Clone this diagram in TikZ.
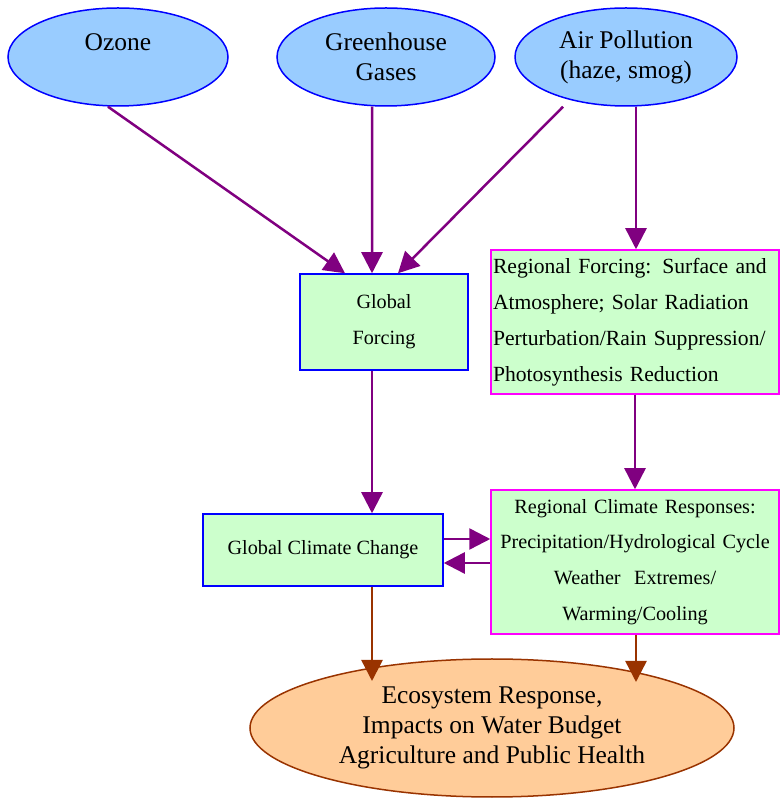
\documentclass[tikz,border=0pt]{standalone}
\usepackage{fontspec}
\setmainfont{Liberation Serif}
\usepackage{tikz}
\usetikzlibrary{positioning}
\usetikzlibrary{arrows.meta,shapes.geometric}
\definecolor{causefill}{RGB}{153,204,255}
\definecolor{causeline}{RGB}{0,0,255}
\definecolor{boxfill}{RGB}{204,255,204}
\definecolor{regionline}{RGB}{255,0,255}
\definecolor{impactfill}{RGB}{255,204,153}
\definecolor{impactline}{RGB}{153,51,0}
\definecolor{arrowpurple}{RGB}{128,0,128}

\begin{document}
\begin{tikzpicture}[
    cause/.style={ellipse, draw=causeline, line width=0.03cm, fill=causefill, minimum width=4.4cm, minimum height=1.96cm, inner sep=0pt, align=center, font=\fontsize{14.5}{17}\selectfont},
    globalbox/.style={rectangle, draw=causeline, line width=0.03cm, fill=boxfill, inner sep=0.04cm, align=center, font=\fontsize{11.5}{20.4}\selectfont},
    regionbox/.style={rectangle, draw=regionline, line width=0.03cm, fill=boxfill, inner sep=0.04cm, text width=5.68cm, minimum height=2.88cm},
    impact/.style={ellipse, draw=impactline, line width=0.03cm, fill=impactfill, minimum width=9.68cm, minimum height=2.76cm, inner sep=0pt, align=center, font=\fontsize{14.5}{17}\selectfont},
    forcearrow/.style={draw=arrowpurple, line width=0.05cm, -{Triangle[length=0.42cm,width=0.42cm]}},
    impactarrow/.style={draw=impactline, line width=0.05cm, -{Triangle[length=0.42cm,width=0.42cm]}}
  ]
   \useasboundingbox (0,0) rectangle (15.58,15.96);
   % sources
   \node[cause] (ozone) at (2.36,14.82) {Ozone\\\mbox{}};
   \node[cause, minimum width=4.36cm] (ghg) at (7.72,14.82) {Greenhouse\\Gases};
   \node[cause, minimum width=4.44cm] (airpol) at (12.52,14.82) {Air Pollution\\(haze, smog)};
   % forcing
   \node[globalbox, minimum width=3.36cm, minimum height=1.92cm] (gforce) at (7.68,9.52) {Global\\Forcing};
   \node[regionbox, align=left, font=\fontsize{12.3}{20.4}\selectfont] (rforce) at (12.70,9.52) {Regional Forcing: Surface and\\Atmosphere; Solar Radiation\\Perturbation/Rain Suppression/\\Photosynthesis Reduction};
   % climate
   \node[globalbox, minimum width=4.8cm, minimum height=1.44cm] (gclim) at (6.46,4.96) {Global Climate Change};
   \node[regionbox, align=center, font=\fontsize{11.5}{20.4}\selectfont] (rclim) at (12.70,4.72) {Regional Climate Responses:\\Precipitation/Hydrological Cycle\\Weather\ \ Extremes/\\Warming/Cooling};
   % impacts
   \node[impact] (eco) at (9.84,1.40) {Ecosystem Response,\\Impacts on Water Budget\\Agriculture and Public Health};
   \coordinate (ecoleft) at ([shift={(-2.4,0.94)}]eco.center);
   \coordinate (ecoright) at ([shift={(2.88,0.92)}]eco.center);

   \draw[forcearrow] ([xshift=-0.2cm]ozone.south) -- ([xshift=-0.78cm]gforce.north);
   \draw[forcearrow] ([xshift=-0.28cm]ghg.south) -- ([xshift=-0.24cm]gforce.north);
   \draw[forcearrow] ([xshift=-1.26cm]airpol.south) -- ([xshift=0.28cm]gforce.north);
   \draw[forcearrow] ([xshift=0.2cm]airpol.south) -- ([xshift=0.2cm]airpol.south |- rforce.north);
   \draw[forcearrow] ([xshift=-0.24cm]gforce.south) -- ([xshift=-0.24cm]gforce.south |- gclim.north);
   \draw[forcearrow] (rforce.south) -- (rclim.north);
   \draw[forcearrow] ([yshift=0.22cm]gclim.east) -- ([yshift=0.22cm]gclim.east -| rclim.west);
   \draw[forcearrow] ([yshift=-0.26cm]gclim.east -| rclim.west) -- ([yshift=-0.26cm]gclim.east);
   \draw[impactarrow] (ecoleft |- gclim.south) -- (ecoleft);
   \draw[impactarrow] (ecoright |- rclim.south) -- (ecoright);
\end{tikzpicture}
\end{document}
